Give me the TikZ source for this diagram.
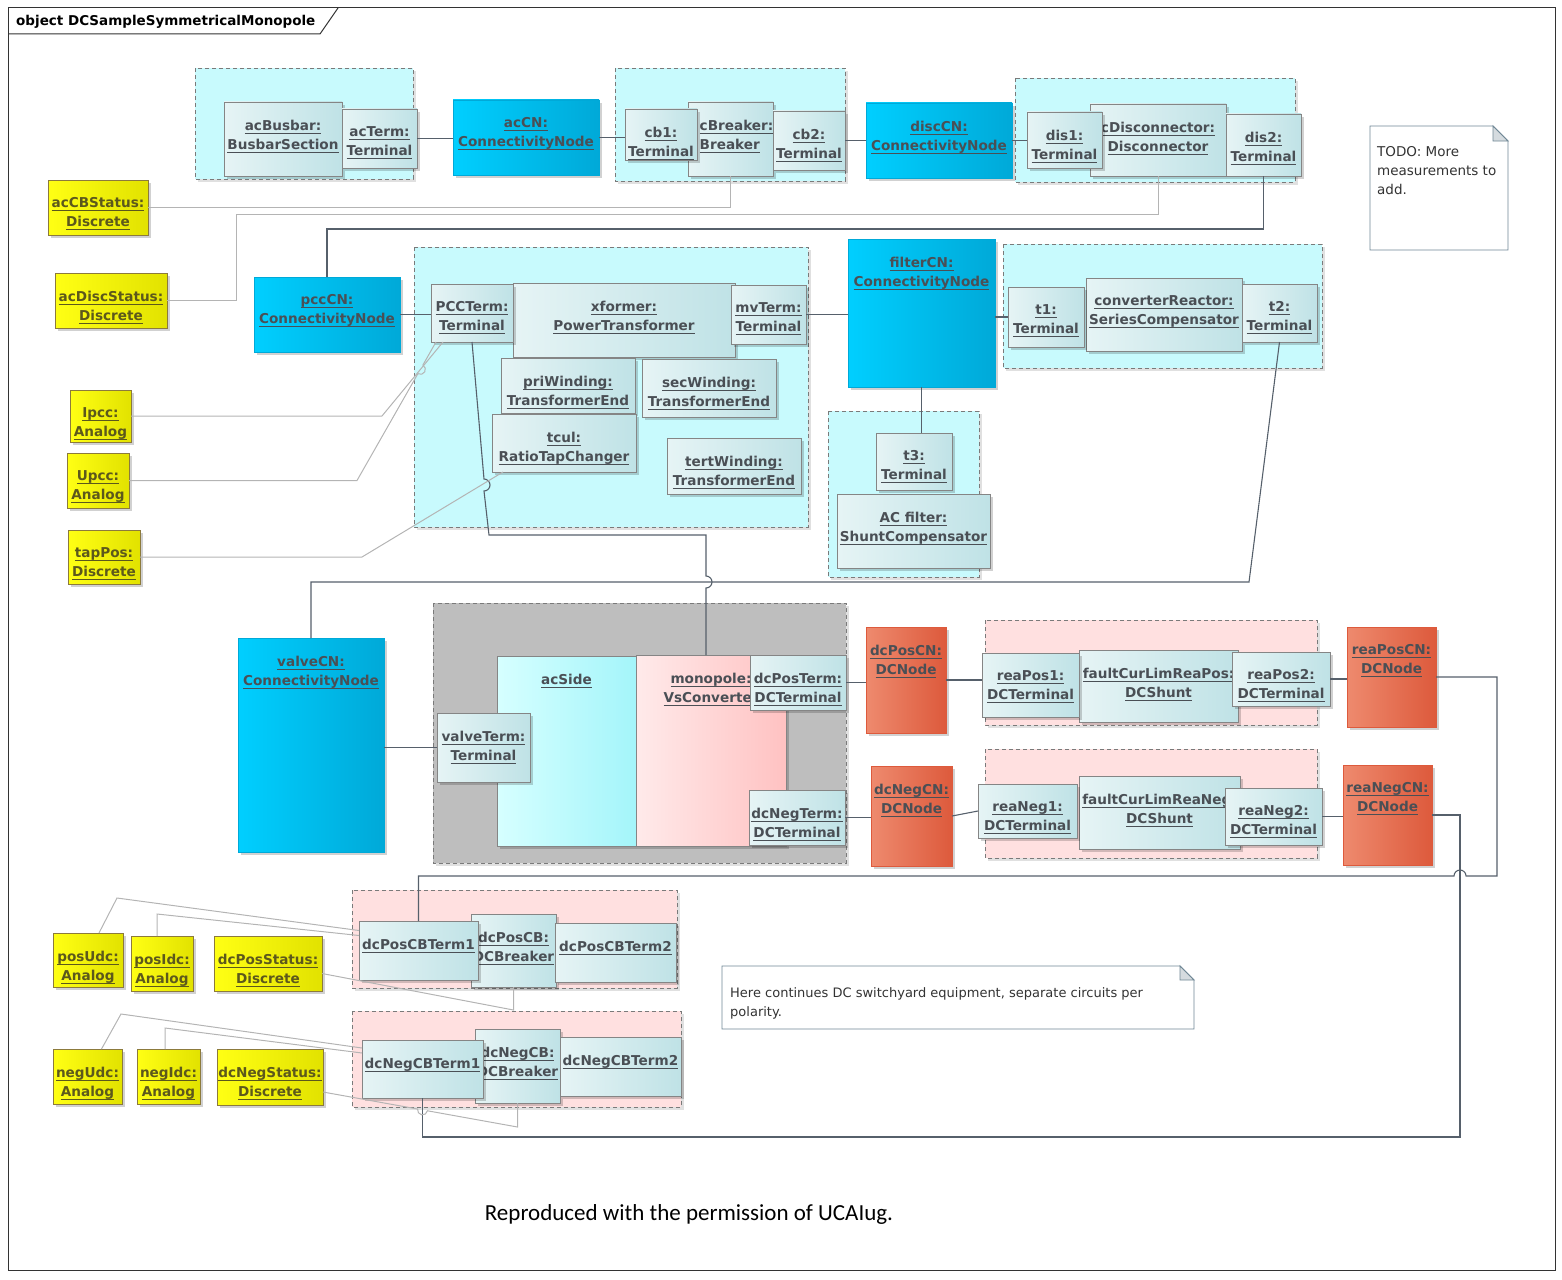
\documentclass[tikz,border=0pt]{standalone}
\usepackage{fontspec}
\setmainfont{DejaVu Sans}
\newfontfamily\credfont{Carlito}
\usetikzlibrary{calc,shadows}

\definecolor{boxline}{HTML}{858585}
\definecolor{termL}{HTML}{E6F4F5}
\definecolor{termR}{HTML}{BFE2E6}
\definecolor{cnL}{HTML}{00CFFF}
\definecolor{cnR}{HTML}{00A9D8}
\definecolor{dcL}{HTML}{EE8A6E}
\definecolor{dcR}{HTML}{DD5A3C}
\definecolor{yelL}{HTML}{FFFF14}
\definecolor{yelR}{HTML}{E2E200}
\definecolor{yelline}{HTML}{8C7A3C}
\definecolor{yeltext}{HTML}{5C581C}
\definecolor{sideL}{HTML}{D6FFFF}
\definecolor{sideR}{HTML}{A4F5FA}
\definecolor{convL}{HTML}{FFEAEA}
\definecolor{convR}{HTML}{FFC2C2}
\definecolor{grpcyan}{HTML}{C8FAFD}
\definecolor{grppink}{HTML}{FFE0E0}
\definecolor{grpgray}{HTML}{BEBEBE}
\definecolor{grpline}{HTML}{7A7A7A}
\definecolor{lbltext}{HTML}{4A4F55}
\definecolor{linkdark}{HTML}{56606B}
\definecolor{linkgray}{HTML}{B4B4B4}
\definecolor{noteline}{HTML}{6F8795}
\definecolor{notefold}{HTML}{D5DBDF}

\newcommand{\uln}[1]{\leavevmode\setbox0=\hbox{#1}\rlap{\rule[-3.5pt]{\wd0}{0.9pt}}\box0}
\newcommand{\objname}[2]{\uln{#1}\\\uln{#2}}
\newcommand{\umlobj}[8][]{%
  \node[objbox,#3,minimum width={#6-#4},minimum height={#7-#5}] (#2) at ({(#4+#6)/2},{(#5+#7)/2}) {};
  \node[objtext,#1] (#2-txt) at (#2.north) {#8};}

\begin{document}
\begin{tikzpicture}[x=1pt,y=-1pt,
  objbox/.style={draw=boxline,line width=.9pt,inner sep=0pt,outer sep=0pt,
    drop shadow={shadow xshift=3pt,shadow yshift=-3pt,fill=black,opacity=.18}},
  term/.style={left color=termL,right color=termR},
  cnode/.style={left color=cnL,right color=cnR,draw=cnR},
  dcnode/.style={left color=dcL,right color=dcR,draw=dcR},
  status/.style={left color=yelL,right color=yelR,draw=yelline},
  acside/.style={left color=sideL,right color=sideR,draw=boxline},
  conv/.style={left color=convL,right color=convR,draw=boxline},
  objtext/.style={anchor=north,yshift=-17.5pt,inner sep=0pt,align=center,text=lbltext,
    font=\fontsize{13.6}{19}\selectfont\bfseries},
  yellbl/.style={text=yeltext},
  grp/.style={draw=grpline,line width=.8pt,dash pattern=on 4pt off 3pt,
    drop shadow={shadow xshift=3pt,shadow yshift=-3pt,fill=black,opacity=.12}},
  cyangrp/.style={grp,fill=grpcyan},
  pinkgrp/.style={grp,fill=grppink},
  graygrp/.style={grp,fill=grpgray},
  link/.style={draw=linkdark,line width=1.1pt},
  infolink/.style={draw=linkgray,line width=1pt},
  notebox/.style={draw=noteline,line width=.9pt,fill=white},
  diagframe/.style={draw=black!80,line width=1pt}]
  \useasboundingbox (0,0) rectangle (1562,1279);
  \draw[diagframe] (8,8) rectangle (1555,1270);
  \draw[diagframe] (8,34) -- (320,34) -- (338,8);
  \node[anchor=base west,inner sep=0pt,font=\fontsize{13.5}{16}\selectfont\bfseries] (title) at (16,26) {object DCSampleSymmetricalMonopole};

  \draw[cyangrp] (195,68) rectangle (413,179);
  \draw[cyangrp] (615,68) rectangle (845,181);
  \draw[cyangrp] (1015,78) rectangle (1295,182);
  \draw[cyangrp] (414,247) rectangle (808,527);
  \draw[cyangrp] (828,411) rectangle (979,577);
  \draw[cyangrp] (1003,244) rectangle (1322,368);
  \draw[graygrp] (433,603) rectangle (846,863);
  \draw[pinkgrp] (985,620) rectangle (1317,725);
  \draw[pinkgrp] (985,749) rectangle (1317,858);
  \draw[pinkgrp] (352,890) rectangle (677,988);
  \draw[pinkgrp] (352,1011) rectangle (681,1107);

  \umlobj{acBusbar}{term}{224}{102}{342}{176}{\objname{acBusbar:}{BusbarSection}}
  \umlobj{acTerm}{term}{342}{109}{417}{168}{\objname{acTerm:}{Terminal}}
  \umlobj{acCN}{cnode}{453}{100}{599}{175}{\objname{acCN:}{ConnectivityNode}}
  \umlobj[align=left,xshift=6pt]{cBreaker}{term}{688}{102}{773}{176}{\objname{cBreaker:}{Breaker}}
  \umlobj{cb1}{term}{625}{109}{697}{160}{\objname{cb1:}{Terminal}}
  \umlobj{cb2}{term}{773}{111}{845}{170}{\objname{cb2:}{Terminal}}
  \umlobj{discCN}{cnode}{866}{103}{1012}{178}{\objname{discCN:}{ConnectivityNode}}
  \umlobj{cDisconnector}{term}{1090}{104}{1226}{176}{\objname{cDisconnector:}{Disconnector}}
  \umlobj{dis1}{term}{1027}{112}{1102}{168}{\objname{dis1:}{Terminal}}
  \umlobj{dis2}{term}{1226}{114}{1301}{176}{\objname{dis2:}{Terminal}}

  \umlobj[yellbl]{acCBStatus}{status}{48}{180}{148}{235}{\objname{acCBStatus:}{Discrete}}
  \umlobj[yellbl]{acDiscStatus}{status}{55}{273}{167}{328}{\objname{acDiscStatus:}{Discrete}}
  \umlobj[yellbl]{Ipcc}{status}{70}{390}{131}{442}{\objname{Ipcc:}{Analog}}
  \umlobj[yellbl]{Upcc}{status}{67}{453}{129}{508}{\objname{Upcc:}{Analog}}
  \umlobj[yellbl]{tapPos}{status}{68}{530}{140}{584}{\objname{tapPos:}{Discrete}}

  \umlobj{pccCN}{cnode}{254}{277}{400}{352}{\objname{pccCN:}{ConnectivityNode}}
  \umlobj{xformer}{term}{513}{283}{735}{357}{\objname{xformer:}{PowerTransformer}}
  \umlobj{PCCTerm}{term}{431}{284}{513}{342}{\objname{PCCTerm:}{Terminal}}
  \umlobj{mvTerm}{term}{731}{285}{806}{344}{\objname{mvTerm:}{Terminal}}
  \umlobj{priWinding}{term}{501}{358}{635}{413}{\objname{priWinding:}{TransformerEnd}}
  \umlobj{secWinding}{term}{642}{359}{776}{417}{\objname{secWinding:}{TransformerEnd}}
  \umlobj{tcul}{term}{492}{414}{636}{472}{\objname{tcul:}{RatioTapChanger}}
  \umlobj{tertWinding}{term}{667}{438}{801}{494}{\objname{tertWinding:}{TransformerEnd}}
  \umlobj{filterCN}{cnode}{848}{239}{995}{387}{\objname{filterCN:}{ConnectivityNode}}
  \umlobj{converterReactor}{term}{1086}{278}{1242}{351}{\objname{converterReactor:}{SeriesCompensator}}
  \umlobj{t1}{term}{1008}{287}{1084}{347}{\objname{t1:}{Terminal}}
  \umlobj{t2}{term}{1242}{284}{1317}{342}{\objname{t2:}{Terminal}}
  \umlobj{t3}{term}{876}{433}{952}{490}{\objname{t3:}{Terminal}}
  \umlobj{acFilter}{term}{837}{494}{990}{568}{\objname{AC filter:}{ShuntCompensator}}

  \umlobj{valveCN}{cnode}{238}{638}{384}{852}{\objname{valveCN:}{ConnectivityNode}}
  \umlobj{acSide}{acside}{497}{656}{636}{846}{\uln{acSide}}
  \umlobj{monopole}{conv}{636}{655}{786}{846}{\objname{monopole:}{VsConverter}}
  \umlobj{valveTerm}{term}{437}{713}{530}{782}{\objname{valveTerm:}{Terminal}}
  \umlobj{dcPosTerm}{term}{750}{655}{846}{710}{\objname{dcPosTerm:}{DCTerminal}}
  \umlobj{dcNegTerm}{term}{749}{790}{845}{845}{\objname{dcNegTerm:}{DCTerminal}}
  \umlobj{dcPosCN}{dcnode}{866}{627}{946}{733}{\objname{dcPosCN:}{DCNode}}
  \umlobj{dcNegCN}{dcnode}{871}{766}{952}{866}{\objname{dcNegCN:}{DCNode}}
  \umlobj{faultCurLimReaPos}{term}{1079}{650}{1238}{722}{\objname{faultCurLimReaPos:}{DCShunt}}
  \umlobj{reaPos1}{term}{982}{653}{1079}{717}{\objname{reaPos1:}{DCTerminal}}
  \umlobj{reaPos2}{term}{1232}{652}{1330}{706}{\objname{reaPos2:}{DCTerminal}}
  \umlobj{reaPosCN}{dcnode}{1347}{627}{1436}{727}{\objname{reaPosCN:}{DCNode}}
  \umlobj{faultCurLimReaNeg}{term}{1079}{776}{1240}{849}{\objname{faultCurLimReaNeg:}{DCShunt}}
  \umlobj{reaNeg1}{term}{978}{784}{1077}{838}{\objname{reaNeg1:}{DCTerminal}}
  \umlobj{reaNeg2}{term}{1225}{788}{1322}{845}{\objname{reaNeg2:}{DCTerminal}}
  \umlobj{reaNegCN}{dcnode}{1343}{765}{1432}{865}{\objname{reaNegCN:}{DCNode}}

  \umlobj{dcPosCB}{term}{471}{914}{556}{987}{\objname{dcPosCB:}{DCBreaker}}
  \umlobj{dcPosCBTerm1}{term}{359}{921}{478}{980}{\uln{dcPosCBTerm1}}
  \umlobj{dcPosCBTerm2}{term}{555}{923}{676}{982}{\uln{dcPosCBTerm2}}
  \umlobj{dcNegCB}{term}{475}{1029}{560}{1103}{\objname{dcNegCB:}{DCBreaker}}
  \umlobj{dcNegCBTerm1}{term}{362}{1040}{483}{1098}{\uln{dcNegCBTerm1}}
  \umlobj{dcNegCBTerm2}{term}{560}{1037}{681}{1096}{\uln{dcNegCBTerm2}}

  \umlobj[yellbl]{posUdc}{status}{53}{933}{123}{987}{\objname{posUdc:}{Analog}}
  \umlobj[yellbl]{posIdc}{status}{131}{936}{193}{991}{\objname{posIdc:}{Analog}}
  \umlobj[yellbl]{dcPosStatus}{status}{214}{936}{322}{991}{\objname{dcPosStatus:}{Discrete}}
  \umlobj[yellbl]{negUdc}{status}{53}{1049}{122}{1104}{\objname{negUdc:}{Analog}}
  \umlobj[yellbl]{negIdc}{status}{137}{1049}{200}{1104}{\objname{negIdc:}{Analog}}
  \umlobj[yellbl]{dcNegStatus}{status}{217}{1049}{323}{1105}{\objname{dcNegStatus:}{Discrete}}

  \draw[notebox] (1370,126) -- (1493,126) -- (1508,141) -- (1508,250) -- (1370,250) -- cycle;
  \draw[notebox,fill=notefold] (1493,126) -- (1493,141) -- (1508,141) -- cycle;
  \node[anchor=north west,inner sep=0pt,align=left,text=black!80,font=\fontsize{13.5}{19}\selectfont] (todo) at (1377,146) {TODO: More\\measurements to\\add.};
  \draw[notebox] (722,966) -- (1180,966) -- (1194,980) -- (1194,1029) -- (722,1029) -- cycle;
  \draw[notebox,fill=notefold] (1180,966) -- (1180,980) -- (1194,980) -- cycle;
  \node[anchor=north west,inner sep=0pt,align=left,text=black!80,font=\fontsize{13}{19}\selectfont] (dcnote) at (730,987) {Here continues DC switchyard equipment, separate circuits per\\polarity.};
  \node[anchor=base,inner sep=0pt,font=\credfont\fontsize{23}{26}\selectfont] (credit) at (689,1220) {Reproduced with the permission of UCAIug.};

  \draw[link] (acTerm.east) -- (acTerm.east -| acCN.west);
  \draw[link] (acCN.east) -- (acCN.east -| cb1.west);
  \draw[link] (cb2.east) -- (cb2.east -| discCN.west);
  \draw[link] (discCN.east) -- (discCN.east -| dis1.west);
  \draw[infolink] (acCBStatus.east) -| (cBreaker.south);
  \draw[infolink] (acDiscStatus.east) -| (236,214) -| (cDisconnector.south);
  \draw[link] (dis2.south) |- (pccCN.north |- 0,229) -- (pccCN.north);
  \draw[link] (pccCN.east) -- (pccCN.east -| PCCTerm.west);
  \draw[link] (mvTerm.east) -- (mvTerm.east -| filterCN.west);
  \draw[link] (filterCN.east |- t1.west) -- (t1.west);
  \draw[link] (filterCN.south) -- (filterCN.south |- t3.north);
  \draw[link] (t2.south) -- (1249,582) -- (valveCN.north |- 0,582) -- (valveCN.north);
  \draw[link] (PCCTerm.south) -- (484,479) arc (-90:90:6) -- (489,535) -- (706,535)
    -- (706,576) arc (-90:90:6) -- (monopole.north -| 706,0);
  \draw[infolink] (Ipcc.east) -- ++(251,0) -- ($(PCCTerm.south west)+(12,0)$);
  \draw[infolink] (Upcc.east) -- ++(228,0) -- (417.9,373.7) arc (120:-60:5) -- ($(PCCTerm.south west)+(5,0)$);
  \draw[infolink] (tapPos.east) -- ++(222,0) -- ($(tcul.south west)+(11,0)$);

  \draw[link] (valveCN.east |- valveTerm.west) -- (valveTerm.west);
  \draw[link] (dcPosTerm.east) -- (dcPosTerm.east -| dcPosCN.west);
  \draw[link] (dcPosCN.east) -- (dcPosCN.east -| reaPos1.west);
  \draw[link] (reaPos2.east) -- (reaPos2.east -| reaPosCN.west);
  \draw[link] (dcNegTerm.east) -- (dcNegTerm.east -| dcNegCN.west);
  \draw[link] (dcNegCN.east) -- (reaNeg1.west);
  \draw[link] (reaNeg2.east) -- (reaNeg2.east -| reaNegCN.west);
  \draw[link] (reaPosCN.east) -| (1497,876) -- (1466,876) arc (0:-180:6)
    -- (dcPosCBTerm1.north |- 0,876) -- (dcPosCBTerm1.north);
  \draw[link] (reaNegCN.east) -| (1460,1137) -| (dcNegCBTerm1.south);

  \draw[infolink] ($(posUdc.north)+(11,0)$) -- (117,898) -- ($(dcPosCBTerm1.west)+(0,-20)$);
  \draw[infolink] ($(posIdc.north)+(-5,0)$) -- ++(0,-22) -- ($(dcPosCBTerm1.west)+(0,-15)$);
  \draw[infolink] ($(dcPosStatus.east)+(0,10)$) -- (dcPosCB.south |- 0,1010) -- (dcPosCB.south);
  \draw[infolink] ($(negUdc.north)+(14,0)$) -- (121,1014) -- ($(dcNegCBTerm1.west)+(0,-21)$);
  \draw[infolink] ($(negIdc.north)+(-3.5,0)$) -- ++(0,-21) -- ($(dcNegCBTerm1.west)+(0,-16)$);
  \draw[infolink] ($(dcNegStatus.east)+(0,15)$) -- (417.6,1109) arc (190.2:10.2:5)
    -- (dcNegCB.south |- 0,1127) -- (dcNegCB.south);
\end{tikzpicture}
\end{document}
